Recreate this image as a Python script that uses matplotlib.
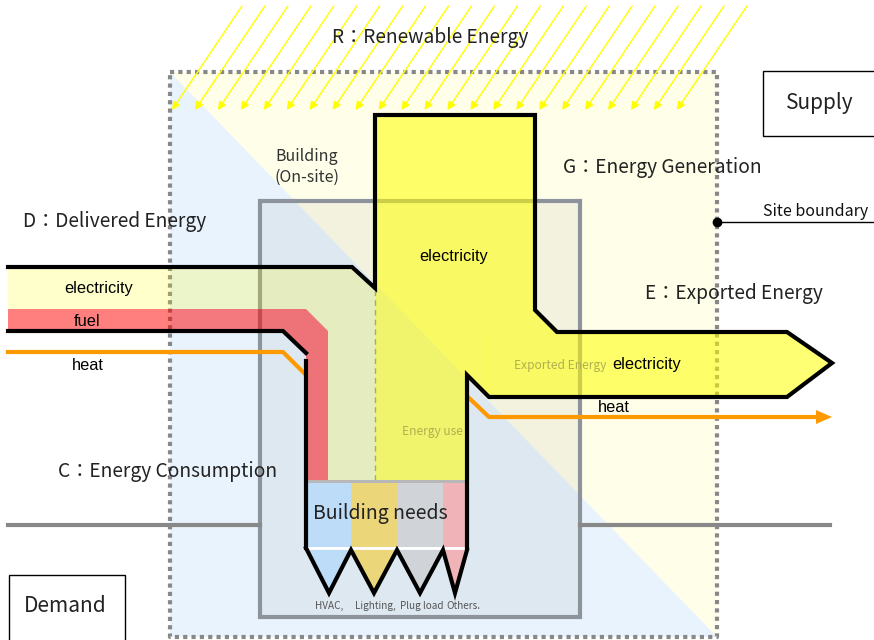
import matplotlib
matplotlib.use('Agg')
import matplotlib.pyplot as plt
from matplotlib.patches import Polygon, Rectangle

plt.rcParams['font.family'] = ['Noto Sans CJK JP', 'DejaVu Sans']

# building needs (end uses)
needs = ['HVAC,', 'Lighting,', 'Plug load', 'Others.']
need_colors = ['#bcdcf8', '#ecd67a', '#d0d4d8', '#f0b4b8']
need_edges = [308, 351, 397, 443, 465]
need_tips = [329, 374, 420, 455]
need_label_x = [329, 375, 422, 463]

# flow labels
delivered = ['electricity', 'fuel', 'heat']
exported = ['electricity', 'heat']

n_rays = 23

fig = plt.figure(figsize=(8.74, 6.4), dpi=100)
ax = fig.add_axes([0, 0, 1, 1])
ax.set_xlim(0, 874)
ax.set_ylim(640, 0)
ax.axis('off')

# site background: demand (blue) / supply (yellow) split
ax.add_patch(Polygon([(170, 72), (717, 72), (717, 637)], closed=True, fc='#fefee9', ec='none'))
ax.add_patch(Polygon([(170, 72), (717, 637), (170, 637)], closed=True, fc='#e8f3fd', ec='none'))

# building
ax.add_patch(Rectangle((260, 201), 320, 416, fc=(0.5, 0.5, 0.5, 0.09), ec='#8c939b', lw=3))

# site boundary
ax.plot([170, 717, 717, 170, 170], [72, 72, 637, 637, 72], color='#888888', lw=3,
        ls=(0, (1, 1)), zorder=2)

# demand/supply separator
ax.plot([8, 260], [525, 525], color='#888888', lw=3)
ax.plot([580, 830], [525, 525], color='#888888', lw=3)

# supply / demand boxes
ax.add_patch(Rectangle((763, 71), 120, 65, fc='white', ec='black', lw=1))
ax.text(820, 103, 'Supply', fontsize=15, ha='center', va='center', color='#222222')
ax.add_patch(Rectangle((9, 575), 116, 70, fc='white', ec='black', lw=1))
ax.text(65, 606, 'Demand', fontsize=15, ha='center', va='center', color='#222222')

# renewable energy rays
for i in range(n_rays):
    tx = 172 + i * 22.95
    ax.annotate('', xy=(tx, 110), xytext=(tx + 70, 6),
                arrowprops=dict(arrowstyle='-|>', color='#ffff00', lw=1,
                                mutation_scale=12, shrinkA=0, shrinkB=0))

# delivered electricity band
ax.add_patch(Polygon([(8, 267), (352, 267), (375, 288), (375, 480), (328, 480), (328, 331), (306, 309), (8, 309)],
                     closed=True, fc=(1, 1, 0, 0.2), ec='none', zorder=3))
# fuel band
ax.add_patch(Polygon([(8, 309), (306, 309), (328, 331), (328, 480), (306, 480), (306, 353), (283, 331), (8, 331)],
                     closed=True, fc=(1, 0, 0, 0.5), ec='none', zorder=3))
# generated / exported electricity
ax.add_patch(Polygon([(375, 115), (535, 115), (535, 310), (557, 332), (787, 332), (832, 363), (787, 397),
                      (489, 397), (467, 375), (467, 480), (375, 480)],
                     closed=True, fc=(1, 1, 0, 0.55), ec='none', zorder=3))
ax.plot([489, 489], [334, 396], color='#ffff40', lw=1, zorder=3)
ax.plot([375, 375], [290, 480], color='#a8a870', lw=1, ls=(0, (4, 3)), zorder=4)

# heat flows
ax.plot([8, 283, 306], [352, 352, 375], color='#ff9900', lw=3, zorder=4)
ax.plot([468, 489, 818], [397, 417, 417], color='#ff9900', lw=3, zorder=4)
ax.add_patch(Polygon([(816, 410), (832, 417), (816, 424)], closed=True, fc='#ff9900', ec='none', zorder=4))

# building needs box
ax.add_patch(Rectangle((306, 480), 161, 3, fc='#b8b8b8', ec='none', zorder=4))
for i in range(len(needs)):
    x0, x1 = need_edges[i], need_edges[i + 1]
    ax.add_patch(Rectangle((x0, 483), x1 - x0, 64, fc=need_colors[i], ec='none', zorder=4))
    ax.add_patch(Polygon([(x0, 549), (x1, 549), (need_tips[i], 592)], closed=True,
                         fc=need_colors[i], ec='none', zorder=4))
ax.plot([306, 467], [548, 548], color='white', lw=2, zorder=5)
zig_x = [306]
zig_y = [548]
for i in range(len(needs)):
    zig_x += [need_tips[i], need_edges[i + 1] if i < 3 else 467]
    zig_y += [593, 550]
ax.plot(zig_x, zig_y, color='black', lw=3, zorder=6, solid_joinstyle='miter')
ax.text(380, 514, 'Building needs', fontsize=14, ha='center', va='center', color='#222222', zorder=7)
for i, lab in enumerate(needs):
    ax.text(need_label_x[i], 606, lab, fontsize=7.2, ha='center', va='center', color='#555555')

# black outlines
ax.plot([8, 352, 375, 375, 535, 535, 557, 787, 832, 787, 489, 467, 467],
        [267, 267, 288, 115, 115, 310, 332, 332, 363, 397, 397, 375, 548],
        color='black', lw=3, zorder=6, solid_joinstyle='miter')
ax.plot([8, 283, 306], [331, 331, 353], color='black', lw=3, zorder=6)
ax.plot([306, 306], [361, 548], color='black', lw=3, zorder=6)

# site boundary marker
ax.plot([717, 874], [222, 222], color='black', lw=1)
ax.plot(717, 222, 'o', color='black', ms=6)
ax.text(763, 212, 'Site boundary', fontsize=11.5, ha='left', va='center', color='#111111')

# labels
lab = dict(fontsize=13.8, va='center', color='#222222')
ax.text(430, 37, 'R：Renewable Energy', ha='center', **lab)
ax.text(563, 167, 'G：Energy Generation', ha='left', **lab)
ax.text(23, 221, 'D：Delivered Energy', ha='left', **lab)
ax.text(645, 293, 'E：Exported Energy', ha='left', **lab)
ax.text(58, 471, 'C：Energy Consumption', ha='left', **lab)
ax.text(307, 167, 'Building\n(On-site)', ha='center', fontsize=11.5, va='center', color='#333333',
        linespacing=1.3)

flow = dict(fontsize=11.8, ha='center', va='center', color='black', family='Liberation Sans', zorder=7)
ax.text(99, 289, delivered[0], **flow)
ax.text(87, 321, delivered[1], **flow)
ax.text(88, 365, delivered[2], **flow)
ax.text(454, 257, 'electricity', **flow)
ax.text(647, 365, exported[0], **flow)
ax.text(614, 408, exported[1], **flow)
ax.text(560, 366, 'Exported Energy', fontsize=8.6, ha='center', va='center', color='#b0b050', zorder=7)
ax.text(432, 431, 'Energy use', fontsize=8.6, ha='center', va='center', color='#b0b050', zorder=7)

fig.savefig('out.png', dpi=100)
